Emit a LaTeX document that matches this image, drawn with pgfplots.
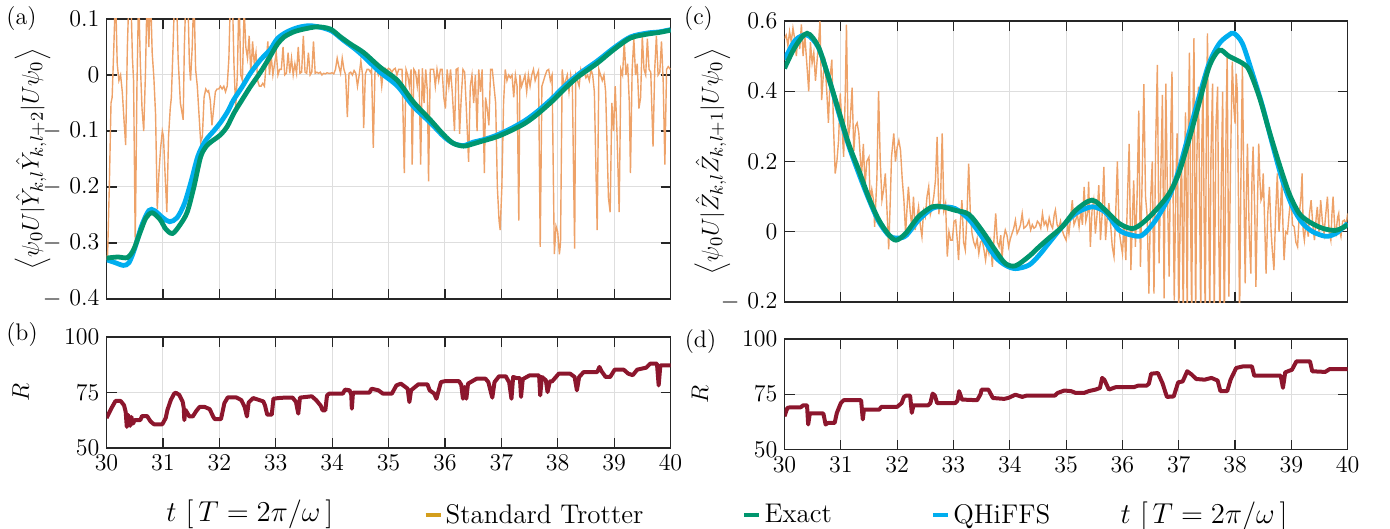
\documentclass[border=0pt]{standalone}
\usepackage{pgfplots}
\pgfplotsset{compat=1.18}
\definecolor{trot}{RGB}{238,162,104}
\definecolor{trotleg}{RGB}{212,158,28}
\definecolor{exact}{RGB}{0,150,110}
\definecolor{qhiffs}{RGB}{0,174,239}
\definecolor{rcol}{RGB}{140,22,45}
\definecolor{axcol}{RGB}{38,38,38}
\definecolor{gridcol}{RGB}{222,222,222}
\pgfplotsset{
 base/.style={
  scale only axis, xmin=30, xmax=40, xtick={30,31,32,33,34,35,36,37,38,39,40},
  tick align=inside, tick pos=both, major tick length=5pt,
  axis line style={axcol, line width=0.6pt},
  every tick/.style={axcol, line width=0.6pt},
  grid=major, major grid style={gridcol, line width=0.5pt},
  font=\fontsize{12}{14}\selectfont,
  tick label style={font=\fontsize{12}{14}\selectfont},
  ylabel style={font=\fontsize{13}{15}\selectfont},
  xlabel style={font=\fontsize{14}{16}\selectfont},
 },
 trotline/.style={trot, line width=0.7pt},
 smoothline/.style={line width=2.4pt, smooth},
 rline/.style={rcol, line width=2pt, line join=round},
}
\begin{document}
\begin{tikzpicture}
\path[use as bounding box] (0,0) rectangle (695pt,-264.5pt);
% ---------------- (a)
\begin{axis}[base, at={(53.25pt,-149.5pt)}, anchor=south west, width=282pt, height=140pt,
  ymin=-0.4, ymax=0.1, ytick={-0.4,-0.3,-0.2,-0.1,0,0.1},
  yticklabels={$-\ 0.4$,$-\ 0.3$,$-\ 0.2$,$-\ 0.1$,$0$,$0.1$}, xticklabels={},
  ylabel={$\left\langle \psi_0 U|\hat{Y}_{k,l}\hat{Y}_{k,l+2}|U\psi_0\right\rangle$},
  ylabel style={at={(axis description cs:-0.131,0.5)}, anchor=center}]
\addplot[trotline] coordinates {
(30.00,-0.33) (30.02,-0.32) (30.05,-0.20) (30.08,-0.05) (30.10,-0.04) (30.13,0.05) (30.16,0.15) (30.19,0.02)
(30.22,-0.01) (30.25,0.0) (30.28,-0.03) (30.31,-0.08) (30.34,-0.125) (30.37,0.05) (30.40,0.15) (30.43,0.15)
(30.46,0.03) (30.48,-0.01) (30.51,-0.30) (30.54,-0.02) (30.57,0.15) (30.60,0.02) (30.63,-0.06) (30.66,-0.10)
(30.69,0.0) (30.72,0.15) (30.75,0.05) (30.78,0.15) (30.81,0.04) (30.84,-0.005) (30.87,-0.07) (30.90,-0.24)
(30.93,-0.175) (30.96,-0.13) (30.99,-0.10) (31.01,-0.11) (31.04,-0.18) (31.07,-0.245) (31.10,-0.11) (31.13,-0.06)
(31.15,-0.04) (31.18,0.05) (31.21,0.15) (31.24,0.15) (31.27,0.03) (31.31,-0.05) (31.36,-0.08) (31.38,0.05)
(31.41,0.15) (31.44,0.15) (31.47,0.02) (31.49,-0.01) (31.52,0.05) (31.55,0.15) (31.58,0.01) (31.61,-0.02)
(31.64,-0.07) (31.67,-0.12) (31.70,-0.11) (31.73,-0.04) (31.76,-0.025) (31.79,-0.03) (31.81,-0.028) (31.84,-0.045)
(31.87,-0.09) (31.90,-0.06) (31.93,-0.03) (31.96,-0.025) (31.99,-0.025) (32.02,-0.02) (32.05,-0.025) (32.08,-0.02)
(32.11,-0.03) (32.14,-0.02) (32.17,0.03) (32.20,0.15) (32.23,0.15) (32.26,0.02) (32.29,-0.06) (32.32,0.0)
(32.35,0.15) (32.38,0.0) (32.41,-0.01) (32.44,0.12) (32.47,0.05) (32.50,0.03) (32.53,0.07) (32.56,0.0)
(32.59,0.06) (32.62,0.02) (32.65,0.04) (32.68,-0.01) (32.71,-0.02) (32.74,-0.02) (32.77,-0.015) (32.80,-0.02)
(32.83,0.02) (32.86,0.06) (32.89,0.0) (32.92,0.035) (32.95,0.0) (32.98,0.02) (33.01,0.04) (33.04,0.0)
(33.07,0.01) (33.10,0.01) (33.13,0.05) (33.16,0.0) (33.19,0.003) (33.22,0.04) (33.25,0.003) (33.28,0.03)
(33.31,0.0) (33.34,0.02) (33.37,0.003) (33.40,0.05) (33.43,0.003) (33.46,0.005) (33.49,0.07) (33.52,0.005)
(33.55,0.003) (33.58,0.04) (33.61,0.0) (33.64,0.005) (33.67,0.06) (33.70,0.003) (33.73,0.005) (33.76,0.003)
(33.79,0.005) (33.82,0.0) (33.85,0.003) (33.88,0.002) (33.91,0.004) (33.94,0.003) (33.97,0.003) (34.00,0.004)
(34.03,0.002) (34.06,0.01) (34.09,0.03) (34.12,0.015) (34.15,0.003) (34.18,0.03) (34.21,0.01) (34.24,0.0)
(34.27,-0.075) (34.30,0.003) (34.33,0.005) (34.36,0.0) (34.39,0.008) (34.42,0.003) (34.45,-0.02) (34.48,0.0)
(34.51,0.025) (34.54,0.0) (34.56,-0.095) (34.59,0.002) (34.62,0.01) (34.65,0.01) (34.68,0.005) (34.70,0.01)
(34.73,-0.13) (34.76,0.005) (34.79,0.01) (34.82,0.0) (34.85,0.01) (34.88,-0.02) (34.91,0.01) (34.94,0.012)
(34.97,0.008) (35.00,0.012) (35.03,0.01) (35.06,0.005) (35.09,0.01) (35.12,0.012) (35.15,0.0) (35.18,0.01)
(35.21,0.01) (35.24,0.01) (35.28,-0.175) (35.31,0.01) (35.34,0.0) (35.37,-0.02) (35.40,0.01) (35.42,-0.16)
(35.45,0.01) (35.48,0.005) (35.51,-0.02) (35.54,0.01) (35.57,-0.16) (35.60,0.012) (35.63,-0.05) (35.66,0.01)
(35.69,-0.03) (35.71,-0.19) (35.74,0.01) (35.77,0.01) (35.80,0.01) (35.83,-0.02) (35.86,0.01) (35.89,-0.01)
(35.92,0.01) (35.95,0.01) (35.98,-0.04) (36.01,-0.06) (36.04,0.01) (36.07,-0.02) (36.10,0.01) (36.13,-0.03)
(36.17,-0.1) (36.20,0.01) (36.23,0.012) (36.26,-0.105) (36.29,-0.04) (36.32,0.01) (36.35,0.005) (36.38,-0.06)
(36.42,-0.155) (36.45,-0.02) (36.48,0.0) (36.51,-0.05) (36.54,0.0) (36.57,-0.1) (36.60,0.01) (36.63,-0.03)
(36.66,0.01) (36.70,-0.175) (36.72,-0.04) (36.75,-0.06) (36.78,-0.09) (36.81,0.01) (36.84,0.01) (36.87,-0.02)
(36.90,-0.05) (36.93,-0.2) (36.96,-0.26) (36.98,-0.277) (37.01,-0.2) (37.04,-0.05) (37.07,0.01) (37.10,-0.01)
(37.13,0.0) (37.16,-0.005) (37.19,0.0) (37.22,-0.04) (37.25,0.0) (37.28,-0.02) (37.31,-0.26) (37.33,0.0)
(37.36,-0.02) (37.39,-0.01) (37.42,0.0) (37.45,-0.03) (37.48,0.0) (37.51,-0.02) (37.54,0.0) (37.57,0.01)
(37.60,-0.01) (37.63,0.0) (37.66,0.008) (37.69,-0.307) (37.72,-0.02) (37.75,-0.01) (37.78,0.0) (37.81,0.008)
(37.84,0.01) (37.87,-0.01) (37.90,0.0) (37.94,-0.32) (37.97,-0.27) (38.00,-0.28) (38.03,-0.32) (38.05,-0.3)
(38.08,0.01) (38.11,-0.02) (38.14,-0.01) (38.17,0.0) (38.20,-0.03) (38.23,0.0) (38.26,-0.02) (38.30,-0.31)
(38.32,0.0) (38.35,-0.01) (38.38,-0.02) (38.41,0.01) (38.44,0.0) (38.47,0.005) (38.50,-0.005) (38.53,0.0)
(38.56,-0.01) (38.59,0.01) (38.62,0.0) (38.65,-0.03) (38.70,-0.277) (38.73,0.01) (38.76,0.0) (38.79,-0.01)
(38.82,0.0) (38.85,-0.03) (38.90,-0.22) (38.93,-0.245) (38.96,-0.05) (38.99,-0.1) (39.02,-0.02) (39.05,-0.1)
(39.09,-0.245) (39.12,0.01) (39.15,0.0) (39.18,0.06) (39.21,0.0) (39.24,0.02) (39.27,-0.05) (39.29,-0.175)
(39.32,0.01) (39.35,0.065) (39.38,0.0) (39.41,0.02) (39.44,-0.06) (39.47,-0.04) (39.50,0.07) (39.53,0.01)
(39.56,0.0) (39.59,0.065) (39.62,0.01) (39.65,0.005) (39.69,-0.128) (39.72,0.01) (39.75,0.07) (39.78,0.0)
(39.81,0.005) (39.84,0.06) (39.87,-0.01) (39.90,-0.16) (39.93,0.01) (39.96,0.015) (40.00,0.01)};
\addplot[qhiffs, smoothline] coordinates {
(30.00,-0.33) (30.15,-0.335) (30.30,-0.34) (30.40,-0.335) (30.50,-0.31) (30.62,-0.27) (30.75,-0.242) (30.85,-0.242)
(31.00,-0.255) (31.12,-0.262) (31.25,-0.255) (31.38,-0.23) (31.50,-0.19) (31.62,-0.145) (31.75,-0.118) (31.90,-0.1)
(32.02,-0.085) (32.15,-0.065) (32.25,-0.045) (32.40,-0.022) (32.55,0.003) (32.73,0.027) (32.90,0.045) (33.03,0.065)
(33.20,0.077) (33.40,0.085) (33.60,0.088) (33.80,0.085) (34.00,0.078) (34.20,0.062) (34.40,0.047) (34.56,0.033)
(34.85,0.005) (35.16,-0.02) (35.44,-0.056) (35.74,-0.085) (35.98,-0.11) (36.15,-0.122) (36.33,-0.126) (36.50,-0.12)
(36.70,-0.115) (36.93,-0.107) (37.22,-0.093) (37.44,-0.08) (37.64,-0.065) (37.90,-0.042) (38.10,-0.022) (38.35,0.0)
(38.70,0.025) (38.99,0.048) (39.29,0.068) (39.59,0.075) (39.80,0.077) (40.00,0.081)};
\addplot[exact, smoothline] coordinates {
(30.00,-0.327) (30.20,-0.325) (30.37,-0.326) (30.48,-0.312) (30.60,-0.28) (30.70,-0.255) (30.81,-0.246) (30.95,-0.258)
(31.05,-0.275) (31.17,-0.283) (31.30,-0.268) (31.43,-0.245) (31.55,-0.2) (31.67,-0.146) (31.78,-0.126) (31.90,-0.116)
(32.02,-0.107) (32.14,-0.092) (32.26,-0.068) (32.40,-0.045) (32.55,-0.021) (32.73,0.005) (32.90,0.033) (33.03,0.055)
(33.15,0.068) (33.32,0.077) (33.50,0.082) (33.74,0.086) (33.97,0.082) (34.15,0.068) (34.33,0.055) (34.56,0.04)
(34.85,0.014) (35.16,-0.01) (35.44,-0.048) (35.74,-0.08) (35.98,-0.107) (36.15,-0.122) (36.33,-0.127) (36.50,-0.123)
(36.63,-0.119) (36.93,-0.11) (37.22,-0.097) (37.44,-0.085) (37.64,-0.07) (37.90,-0.047) (38.10,-0.027) (38.35,-0.004)
(38.70,0.021) (38.99,0.045) (39.29,0.066) (39.59,0.073) (39.80,0.076) (40.00,0.08)};
\end{axis}
% ---------------- (c)
\begin{axis}[base, at={(392.25pt,-151pt)}, anchor=south west, width=281.6pt, height=140.5pt,
  ymin=-0.2, ymax=0.6, ytick={-0.2,0,0.2,0.4,0.6},
  yticklabels={$-\ 0.2$,$0$,$0.2$,$0.4$,$0.6$}, xticklabels={},
  ylabel={$\left\langle \psi_0 U|\hat{Z}_{k,l}\hat{Z}_{k,l+1}|U\psi_0\right\rangle$},
  ylabel style={at={(axis description cs:-0.128,0.5)}, anchor=center}]
\addplot[trotline] coordinates {
(30.00,0.55) (30.03,0.56) (30.06,0.53) (30.09,0.57) (30.12,0.54) (30.15,0.58) (30.18,0.55) (30.21,0.5)
(30.24,0.56) (30.27,0.52) (30.30,0.59) (30.33,0.5) (30.36,0.56) (30.40,0.47) (30.43,0.40) (30.46,0.54)
(30.49,0.48) (30.52,0.51) (30.55,0.43) (30.58,0.49) (30.61,0.55) (30.63,0.60) (30.66,0.375) (30.69,0.45)
(30.72,0.48) (30.75,0.4) (30.78,0.31) (30.81,0.44) (30.84,0.49) (30.87,0.3) (30.90,0.166) (30.93,0.2)
(30.96,0.26) (30.99,0.394) (31.02,0.3) (31.05,0.213) (31.08,0.4) (31.10,0.59) (31.13,0.26) (31.16,0.3)
(31.20,0.41) (31.23,0.23) (31.26,0.3) (31.29,0.31) (31.32,0.28) (31.35,0.2) (31.37,0.166) (31.40,0.25)
(31.43,0.128) (31.46,0.2) (31.50,0.213) (31.52,0.08) (31.55,0.12) (31.58,0.09) (31.60,0.014) (31.64,0.15)
(31.67,0.4) (31.70,0.2) (31.73,0.09) (31.76,0.12) (31.79,0.166) (31.82,0.06) (31.85,-0.05) (31.88,0.1)
(31.90,0.213) (31.94,0.28) (31.97,0.2) (32.00,0.24) (32.03,0.26) (32.06,0.232) (32.09,0.15) (32.12,0.09)
(32.15,-0.005) (32.18,0.08) (32.20,0.128) (32.23,0.06) (32.26,0.014) (32.29,0.1) (32.32,0.005) (32.35,0.04)
(32.38,0.071) (32.41,0.02) (32.44,-0.014) (32.47,0.06) (32.50,0.043) (32.53,0.1) (32.56,0.128) (32.59,0.05)
(32.62,0.071) (32.65,0.1) (32.68,0.147) (32.71,0.27) (32.74,0.05) (32.77,0.09) (32.80,0.28) (32.83,0.06)
(32.86,0.081) (32.89,-0.071) (32.92,0.0) (32.95,-0.024) (32.98,-0.024) (33.01,0.03) (33.04,0.033) (33.07,-0.03)
(33.09,-0.081) (33.12,0.02) (33.15,0.09) (33.18,-0.03) (33.21,-0.052) (33.24,0.05) (33.27,0.194) (33.30,0.05)
(33.33,-0.005) (33.36,-0.03) (33.39,-0.043) (33.42,-0.02) (33.45,-0.062) (33.48,-0.03) (33.51,-0.024) (33.54,-0.05)
(33.57,-0.081) (33.60,-0.04) (33.63,-0.062) (33.66,-0.03) (33.69,-0.1) (33.72,-0.02) (33.75,0.052) (33.78,-0.03)
(33.81,-0.043) (33.84,-0.01) (33.86,-0.081) (33.89,-0.02) (33.92,0.005) (33.95,-0.01) (33.98,-0.043) (34.01,-0.02)
(34.04,-0.005) (34.07,0.01) (34.10,0.033) (34.13,-0.005) (34.16,0.005) (34.19,0.02) (34.22,0.052) (34.25,0.01)
(34.28,0.014) (34.31,0.02) (34.34,0.033) (34.37,0.005) (34.40,0.02) (34.43,0.01) (34.46,0.014) (34.49,0.03)
(34.52,0.024) (34.55,0.01) (34.58,0.052) (34.61,0.02) (34.64,0.03) (34.67,0.01) (34.70,0.04) (34.73,0.02)
(34.76,0.01) (34.79,0.05) (34.81,0.062) (34.84,0.02) (34.87,0.01) (34.90,0.03) (34.93,0.005) (34.96,-0.01)
(35.00,-0.024) (35.03,0.02) (35.05,-0.005) (35.08,0.04) (35.11,0.09) (35.14,0.02) (35.17,0.033) (35.20,0.05)
(35.23,0.014) (35.26,0.06) (35.29,0.02) (35.32,0.128) (35.35,0.03) (35.38,0.052) (35.40,0.143) (35.43,-0.043)
(35.46,0.06) (35.49,0.09) (35.52,-0.005) (35.55,0.05) (35.58,0.133) (35.61,-0.024) (35.64,0.05) (35.67,0.185)
(35.70,-0.024) (35.73,0.04) (35.76,0.081) (35.79,0.02) (35.82,-0.043) (35.85,-0.071) (35.88,0.05) (35.91,0.2)
(35.94,0.005) (35.97,-0.03) (36.00,-0.062) (36.03,0.02) (36.06,-0.081) (36.09,0.1) (36.12,0.25) (36.15,-0.109)
(36.18,0.05) (36.20,0.146) (36.23,-0.043) (36.26,0.1) (36.29,0.345) (36.32,-0.1) (36.35,0.15) (36.38,0.42)
(36.41,0.1) (36.44,0.043) (36.47,-0.176) (36.50,0.09) (36.53,0.2) (36.56,-0.176) (36.59,0.25) (36.62,0.475)
(36.65,-0.09) (36.68,0.15) (36.71,0.39) (36.74,-0.19) (36.77,0.422) (36.80,0.1) (36.83,-0.128) (36.86,0.3)
(36.88,0.456) (36.90,0.1) (36.92,-0.195) (36.95,0.15) (36.97,0.28) (37.00,-0.25) (37.03,0.1) (37.05,0.213)
(37.08,-0.25) (37.10,0.15) (37.12,0.34) (37.15,-0.25) (37.17,0.3) (37.19,0.51) (37.21,0.05) (37.23,-0.25)
(37.25,0.3) (37.27,0.551) (37.30,-0.25) (37.32,0.2) (37.35,0.413) (37.37,0.1) (37.39,-0.25) (37.41,0.25)
(37.43,0.432) (37.45,0.05) (37.47,-0.25) (37.49,0.3) (37.51,0.565) (37.53,0.1) (37.55,-0.25) (37.57,0.2)
(37.60,0.422) (37.62,0.0) (37.63,-0.25) (37.66,0.3) (37.69,0.413) (37.71,0.0) (37.73,-0.25) (37.76,0.2)
(37.78,0.399) (37.80,-0.1) (37.81,-0.25) (37.84,0.3) (37.86,0.508) (37.88,0.0) (37.89,-0.185) (37.92,0.2)
(37.95,0.484) (37.98,0.35) (38.00,0.308) (38.02,0.45) (38.04,0.399) (38.06,0.1) (38.08,-0.25) (38.10,0.1)
(38.13,0.479) (38.15,0.2) (38.18,-0.147) (38.20,0.1) (38.22,0.251) (38.25,0.0) (38.28,-0.119) (38.30,0.15)
(38.32,0.242) (38.35,0.05) (38.37,-0.157) (38.40,0.1) (38.42,0.251) (38.44,0.15) (38.46,0.09) (38.48,0.1)
(38.50,0.166) (38.53,0.0) (38.55,-0.119) (38.58,0.05) (38.61,0.128) (38.64,0.0) (38.66,-0.05) (38.69,-0.109)
(38.72,0.05) (38.75,0.166) (38.78,0.0) (38.80,0.05) (38.83,0.147) (38.85,0.02) (38.87,-0.081) (38.90,0.0)
(38.93,-0.005) (38.96,0.05) (38.99,0.1) (39.02,0.02) (39.05,0.014) (39.08,-0.03) (39.11,-0.043) (39.14,0.05)
(39.17,0.1) (39.19,0.166) (39.21,0.0) (39.23,-0.024) (39.26,0.03) (39.30,-0.014) (39.32,0.05) (39.35,0.09)
(39.38,0.02) (39.41,-0.024) (39.44,0.04) (39.46,0.071) (39.49,0.0) (39.52,0.09) (39.55,0.03) (39.58,-0.005)
(39.61,0.05) (39.64,0.1) (39.67,0.0) (39.70,-0.024) (39.72,0.05) (39.74,0.1) (39.77,0.01) (39.79,-0.005)
(39.82,0.04) (39.84,0.052) (39.86,0.0) (39.88,-0.014) (39.91,0.03) (39.94,0.033) (39.97,0.02) (40.00,0.052)};
\addplot[qhiffs, smoothline] coordinates {
(30.00,0.49) (30.19,0.545) (30.40,0.56) (30.60,0.525) (30.78,0.44) (30.96,0.34) (31.14,0.245) (31.32,0.165)
(31.49,0.095) (31.67,0.03) (31.85,-0.01) (31.98,-0.018) (32.15,-0.012) (32.38,0.033) (32.62,0.066) (32.80,0.071)
(33.03,0.066) (33.27,0.036) (33.50,-0.013) (33.74,-0.071) (33.92,-0.095) (34.10,-0.105) (34.34,-0.095) (34.52,-0.067)
(34.69,-0.033) (34.93,0.014) (35.17,0.052) (35.46,0.071) (35.70,0.055) (35.94,0.005) (36.17,-0.01) (36.35,-0.01)
(36.59,0.033) (36.83,0.1) (37.00,0.175) (37.18,0.28) (37.36,0.384) (37.54,0.48) (37.72,0.536) (37.89,0.56)
(37.98,0.565) (38.13,0.536) (38.31,0.45) (38.49,0.356) (38.66,0.251) (38.84,0.147) (39.02,0.071) (39.20,0.024)
(39.38,0.0) (39.61,-0.013) (39.79,-0.005) (40.00,0.024)};
\addplot[exact, smoothline] coordinates {
(30.00,0.465) (30.19,0.527) (30.40,0.565) (30.60,0.527) (30.78,0.44) (30.96,0.346) (31.14,0.25) (31.32,0.175)
(31.49,0.1) (31.67,0.035) (31.85,-0.008) (31.98,-0.024) (32.15,-0.005) (32.38,0.043) (32.62,0.071) (32.80,0.071)
(33.03,0.061) (33.27,0.05) (33.50,0.005) (33.74,-0.052) (33.92,-0.09) (34.10,-0.097) (34.34,-0.07) (34.52,-0.043)
(34.69,-0.019) (34.93,0.014) (35.17,0.061) (35.46,0.09) (35.70,0.061) (35.94,0.024) (36.17,0.009) (36.35,0.024)
(36.59,0.061) (36.83,0.109) (37.00,0.166) (37.18,0.261) (37.36,0.365) (37.54,0.47) (37.72,0.517) (37.89,0.5)
(38.13,0.48) (38.25,0.46) (38.43,0.384) (38.60,0.29) (38.78,0.195) (38.96,0.109) (39.14,0.052) (39.32,0.028)
(39.55,0.01) (39.79,0.004) (40.00,0.019)};
\end{axis}
% ---------------- (b)
\begin{axis}[base, at={(53.25pt,-224pt)}, anchor=south west, width=282pt, height=55.5pt,
  ymin=50, ymax=100, ytick={50,75,100},
  ylabel={$R$}, ylabel style={at={(axis description cs:-0.152,0.5)}, anchor=center},
  xlabel={$t\ \big[\,T=2\pi/\omega\,\big]$},
  xlabel style={at={(axis description cs:0.254,-0.6)}, anchor=center},
  legend columns=3,
  legend style={at={(axis description cs:0.561,-0.604)}, anchor=west, draw=none, fill=none,
    inner sep=0pt, font=\fontsize{13.5}{15}\selectfont,
    nodes={inner sep=1.5pt},
    /tikz/every even column/.append style={column sep=48pt}},
  legend image code/.code={\draw[#1] (0pt,0pt) -- (7.5pt,0pt);}]
\addplot[rline, forget plot] coordinates {
(30.00,63.5) (30.05,66) (30.10,68.5) (30.16,71.2) (30.25,71.2) (30.31,69.3) (30.34,66.3) (30.36,59.5)
(30.38,65) (30.40,62) (30.42,60) (30.44,64) (30.47,61) (30.50,62.6) (30.60,62.6) (30.63,64.4)
(30.72,64.4) (30.78,62) (30.84,60.7) (30.99,60.7) (31.05,63.5) (31.08,67.1) (31.14,71.6) (31.20,74.5)
(31.23,74.9) (31.29,73.9) (31.35,70.9) (31.37,68) (31.38,62.6) (31.40,67.2) (31.47,64.2) (31.53,64.2)
(31.59,66.6) (31.65,68.5) (31.74,68.5) (31.83,67.5) (31.89,64.2) (31.92,63) (32.03,63) (32.09,70.2)
(32.15,72.8) (32.30,72.8) (32.39,71.6) (32.45,68.5) (32.49,64.2) (32.52,70.5) (32.60,72.5) (32.71,71.6)
(32.78,71) (32.81,69.2) (32.85,65) (32.93,65) (32.96,72.2) (33.05,72.5) (33.16,72.7) (33.30,72.7)
(33.36,70.7) (33.40,65.5) (33.43,72.7) (33.64,73.3) (33.72,71.5) (33.80,69) (33.83,67) (33.88,67)
(33.91,73.7) (33.95,74.5) (34.19,74.5) (34.23,76.3) (34.31,76) (34.34,74) (34.35,67.7) (34.37,74.9)
(34.66,74.9) (34.70,76.7) (34.82,76) (34.90,74.5) (35.06,74.5) (35.14,78.2) (35.22,79) (35.34,76.7)
(35.37,70.7) (35.40,76) (35.53,78.7) (35.69,78.7) (35.73,76) (35.81,74.5) (35.85,72.2) (35.89,76)
(35.93,79.7) (36.00,80.1) (36.25,80.1) (36.29,78.5) (36.32,72.2) (36.35,77.5) (36.38,72.2) (36.41,79)
(36.56,81.2) (36.72,81.2) (36.77,79.7) (36.84,72.7) (36.88,79.7) (36.96,82.3) (37.08,82.3) (37.14,79.5)
(37.18,72.2) (37.21,82) (37.27,81.5) (37.33,81.5) (37.35,73) (37.38,81) (37.50,82.7) (37.67,82.7)
(37.69,73.7) (37.72,82) (37.79,80.5) (37.82,75.2) (37.86,80) (37.90,80) (38.02,83.5) (38.22,83.5)
(38.30,82) (38.34,76) (38.38,82) (38.46,84.2) (38.70,84.2) (38.74,86.5) (38.78,84.5) (38.85,82)
(38.93,82) (39.01,85.3) (39.17,85.3) (39.25,83.5) (39.33,82.8) (39.41,85.3) (39.57,86.2) (39.64,88)
(39.76,88) (39.79,78.2) (39.82,87.2) (40.00,87.2)};
\addlegendimage{trotleg, line width=2.2pt}
\addlegendentry{Standard Trotter}
\addlegendimage{exact, line width=2.2pt}
\addlegendentry{Exact}
\addlegendimage{qhiffs, line width=2.2pt}
\addlegendentry{QHiFFS}
\end{axis}
% ---------------- (d)
\begin{axis}[base, at={(392.25pt,-224.75pt)}, anchor=south west, width=281.6pt, height=55.25pt,
  ymin=50, ymax=100, ytick={50,75,100},
  ylabel={$R$}, ylabel style={at={(axis description cs:-0.150,0.5)}, anchor=center},
  xlabel={$t\ \big[\,T=2\pi/\omega\,\big]$},
  xlabel style={at={(axis description cs:0.745,-0.6)}, anchor=center}]
\addplot[rline] coordinates {
(30.00,65) (30.05,68.8) (30.10,69.1) (30.29,69.1) (30.33,70) (30.40,70) (30.42,61.3) (30.45,66.3)
(30.69,66.3) (30.73,61.3) (30.77,62) (30.89,62) (30.93,66.6) (31.00,71) (31.05,72.3) (31.36,72.3)
(31.39,63.6) (31.41,68) (31.68,68) (31.72,69.3) (32.00,69.3) (32.08,71) (32.12,73.8) (32.16,74.4)
(32.23,74.4) (32.26,66.6) (32.29,70) (32.55,70) (32.59,71) (32.63,75.3) (32.67,74.4) (32.71,71)
(33.03,71) (33.07,72) (33.10,76.4) (33.15,72.6) (33.42,72.3) (33.48,75) (33.50,77.1) (33.62,77.1)
(33.70,73.3) (33.90,72.9) (33.98,73.4) (34.10,74.8) (34.22,73.8) (34.30,74.4) (34.80,74.4) (34.85,75.6)
(34.97,76.7) (35.09,76.4) (35.17,75.6) (35.32,75.6) (35.40,76.4) (35.52,77.1) (35.60,77.8) (35.64,82.4)
(35.68,81.5) (35.76,77.1) (35.88,78.2) (36.20,78.2) (36.28,78.9) (36.43,78.9) (36.47,79.8) (36.51,84.3)
(36.63,84.6) (36.71,80.1) (36.79,73.8) (36.91,74) (36.99,80.4) (37.07,80.8) (37.15,85.4) (37.23,83.9)
(37.31,81.9) (37.46,81.6) (37.58,82.4) (37.69,81.2) (37.74,76.4) (37.86,76.4) (37.92,81.6) (38.02,86.9)
(38.14,87.6) (38.30,87.6) (38.34,83.4) (38.81,83.4) (38.85,77.9) (38.89,84.9) (39.01,86.1) (39.09,89.9)
(39.33,89.9) (39.37,85.4) (39.60,85.1) (39.68,86.4) (40.00,86.4)};
\end{axis}
\node[font=\fontsize{12}{14}\selectfont] at (10.75pt,-9.5pt) {(a)};
\node[font=\fontsize{12}{14}\selectfont] at (11pt,-167.5pt) {(b)};
\node[font=\fontsize{12}{14}\selectfont] at (349.25pt,-9.5pt) {(c)};
\node[font=\fontsize{12}{14}\selectfont] at (350.25pt,-170.75pt) {(d)};
\end{tikzpicture}
\end{document}
